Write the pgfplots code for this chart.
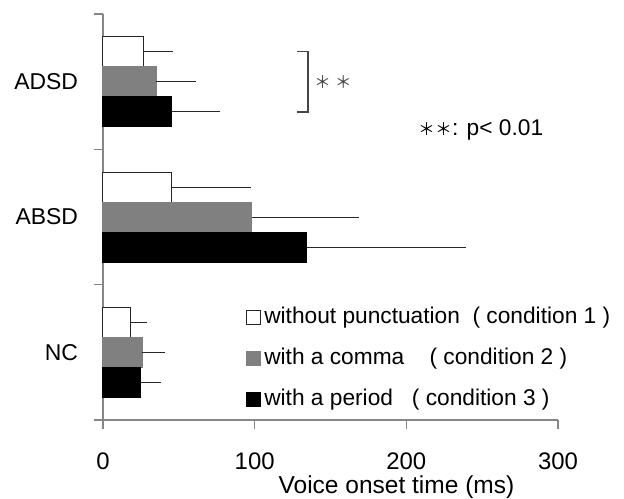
\documentclass[border=0pt]{standalone}
\usepackage{fontspec}
\setmainfont{Liberation Sans}
\newfontfamily\cjk{Noto Sans CJK KR}
\usepackage{pgfplots}
\pgfplotsset{compat=1.18}

\definecolor{barGray}{RGB}{128,128,128}
\definecolor{axGray}{RGB}{134,134,134}
\definecolor{brGray}{RGB}{70,70,70}

\begin{document}
\begin{tikzpicture}
\begin{axis}[
    xbar,
    scale only axis,
    width=227.5bp, height=203bp,
    xmin=0, xmax=300, ymin=0, ymax=3,
    xtick={0,100,200,300},
    ytick={0,1,2,3}, yticklabels={},
    axis x line*=bottom, axis y line*=left,
    axis line style={axGray, line width=0.6bp},
    tick style={axGray, line width=0.6bp},
    tick align=outside, major tick length=4.5bp,
    xticklabel style={yshift=-8.5bp},
    font=\fontsize{11}{13}\selectfont,
    tick label style={font=\fontsize{12}{14}\selectfont},
    /pgf/number format/assume math mode=true,
    xlabel={Voice onset time\ (ms)},
    xlabel style={at={(axis description cs:0.645,-0.165)}, anchor=center,
        inner sep=1bp, font=\fontsize{12.3}{14}\selectfont},
    bar width=0.222,
    error bars/x dir=plus, error bars/x explicit,
    error bars/error bar style={black!85, line width=0.5bp},
    error bars/error mark options={black!85, line width=0.5bp, mark size=1.6bp},
    clip=false,
    legend image code/.code={\draw[#1] (0bp,-3.5bp) rectangle (7bp,3.5bp);},
    legend cell align=left,
    legend style={draw=none, fill=none, at={(axis description cs:0.314,0.286)},
        anchor=north west, row sep=7.8bp, inner sep=0pt,
        nodes={inner sep=1.5bp}, font=\fontsize{11.4}{13}\selectfont},
]
% condition 1: without punctuation
\addplot[draw=black!85, fill=white, line width=0.5bp, bar shift=0.222]
    coordinates {(18,0.5) +- (9,0) (45.5,1.5) +- (50,0) (26.5,2.5) +- (17.5,0)};
\addlegendentry{without punctuation\ \ ( condition 1 )}
% condition 2: with a comma
\addplot[draw=barGray, fill=barGray, line width=0.5bp, bar shift=0]
    coordinates {(26,0.5) +- (13,0) (98,1.5) +- (69,0) (35,2.5) +- (24,0)};
\addlegendentry{with a comma\ \ \ \ ( condition 2 )}
% condition 3: with a period
\addplot[draw=black, fill=black, line width=0.5bp, bar shift=-0.222]
    coordinates {(25,0.5) +- (11,0) (134.5,1.5) +- (102.5,0) (45,2.5) +- (30,0)};
\addlegendentry{with a period\ \ \ ( condition 3 )}

% category labels
\node[anchor=east, xshift=-9bp, font=\fontsize{11.5}{14}\selectfont] at (axis cs:0,2.5) {ADSD};
\node[anchor=east, xshift=-9bp, font=\fontsize{11.5}{14}\selectfont] at (axis cs:0,1.5) {ABSD};
\node[anchor=east, xshift=-9bp, font=\fontsize{11.5}{14}\selectfont] at (axis cs:0,0.5) {NC};

% significance bracket
\draw[brGray, line width=0.75bp]
    (axis cs:127.9,2.722) -- (axis cs:135.1,2.722) -- (axis cs:135.1,2.278) -- (axis cs:127.9,2.278);
\node[brGray, font=\fontsize{8.5}{10}\selectfont] at (axis cs:151.6,2.5) {\cjk ＊ ＊};
\node[font=\fontsize{11.4}{13}\selectfont] at (axis cs:249,2.143)
    {{\cjk\fontsize{8.5}{10}\selectfont ＊＊}: p< 0.01};

\coordinate (bl) at (axis cs:-67.9,-0.576);
\coordinate (tr) at (axis cs:343.5,3.104);
\end{axis}
\pgfresetboundingbox
\path[use as bounding box] (bl) rectangle (tr);
\end{tikzpicture}
\end{document}
